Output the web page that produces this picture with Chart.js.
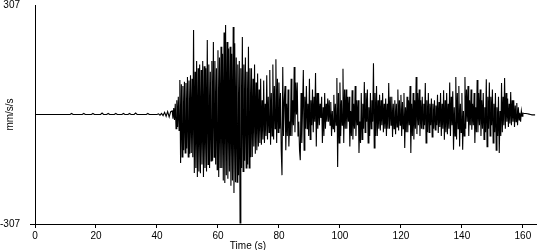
<!DOCTYPE html>
<html><head><meta charset="utf-8">
<script src="https://cdn.jsdelivr.net/npm/chart.js@4/dist/chart.umd.min.js"></script>
<style>html,body{margin:0;padding:0;background:#fff;}#wrap{width:550px;height:250px;position:relative}</style>
</head><body><div id="wrap"><canvas id="c" width="550" height="250"></canvas></div>
<script>
// Pre-event noise: 0 s .. 44.5 s, every 0.5 s (mm/s/s)
const preStart = 0, preStep = 0.5;
const preEvent = [
  0,0,0,0,0,0,0,0,0,0,
  0,0,0,0,0,0,0,0,0,0,
  0,0,0,0,3,0,0,0,0,0,
  0,0,3,0,0,0,0,0,3,0,
  0,0,0,0,4,0,0,0,3,0,
  0,0,0,3,0,0,0,0,3,0,
  0,0,3,0,0,0,4,0,0,0,
  0,0,0,0,3,0,0,0,0,0,
  0,2,-2,3,-3,6,-5,8,-7,8
];
// Strong motion: 45 s .. 159.75 s, every 0.25 s (mm/s/s)
const mainStart = 45, mainStep = 0.25;
const mainShock = [
  10,-12,18,-15, 30,-40,40,-35,
  50,-45,97,-136, 85,-119,80,-100,
  92,-108,88,-95, 105,-119,95,-110,
  110,-108,100,-120, 237,-164,120,-150,
  150,-175,130,-160, 140,-165,125,-140,
  150,-175,135,-150, 130,-160,209,-140,
  140,-150,120,-130, 150,-130,203,-120,
  150,-140,130,-155, 180,-175,160,-150,
  190,-150,170,-185, 230,-192,251,-170,
  203,-180,185,-160, 190,-200,170,-185,
  245,-220,200,-190, 160,-190,140,-170,
  150,-304,130,-150, 217,-160,140,-130,
  160,-150,120,-140, 190,-150,130,-120,
  130,-119,100,-90, 140,-110,90,-100,
  115,-90,70,-80, 100,-85,40,-70,
  95,-80,30,-60, 110,-70,50,-50,
  125,-85,60,-60, 140,-70,80,-40,
  155,-80,100,-50, 90,-40,60,-100,
  -170,133,-60,40, 80,-100,30,-60,
  70,-90,-20,-60, 100,-60,40,-30,
  133,-50,90,0, 90,-60,-20,-100,
  -128,60,-80,20, 125,-100,50,-40,
  80,-40,30,-60, 100,-70,40,-30,
  70,-50,50,-20, 116,-90,60,-40,
  60,-30,30,-10, 50,-80,20,-60,
  60,-40,30,-20, 45,-20,40,-30,
  35,-60,10,-40, 55,-50,30,-30,
  102,-147,60,-80, 90,-60,40,-30,
  128,-80,70,-40, 70,-40,50,-20,
  50,-90,10,-60, 68,-70,30,-40,
  80,-60,40,-30, 40,-108,-20,-80,
  60,-70,30,-40, 91,-50,60,-20,
  70,-80,20,-60, 60,-40,40,-20,
  144,-94,60,-60, 80,-60,40,-40,
  55,-45,40,-30, 60,-50,30,-40,
  45,-60,30,-40, 88,-40,50,-30,
  50,-63,30,-40, 40,-55,30,-35,
  70,-45,40,-30, 55,-60,35,-40,
  60,-94,20,-50, 50,-50,40,-30,
  80,-108,30,-60, 60,-70,40,-40,
  105,-55,60,-30, 70,-60,40,-40,
  50,-40,30,-30, 88,-80,40,-50,
  60,-50,30,-30, 45,-63,30,-40,
  40,-43,25,-30, 55,-52,35,-35,
  60,-60,30,-40, 68,-71,40,-50,
  60,-55,30,-40, 90,-60,50,-30,
  65,-99,20,-60, 105,-70,60,-40,
  80,-90,30,-50, 60,-99,10,-60,
  105,-40,70,-20, 80,-60,40,-30,
  70,-43,30,-30, 60,-80,20,-50,
  97,-50,60,-30, 70,-60,40,-40,
  60,-70,20,-50, 99,-90,50,-40,
  90,-60,50,-30, 70,-80,30,-50,
  60,-100,20,-60, 50,-108,10,-60,
  88,-50,50,-30, 102,-40,60,-20,
  45,-35,30,-25, 63,-30,40,-20,
  40,-35,25,-20, 32,-30,20,-15,
  5,-20,10,-5
];
// Coda tail: 160 s .. 164 s, every 0.5 s (mm/s/s)
const tailStart = 160, tailStep = 0.5;
const tail = [4,3,3,2,1,0,-1,-1,-1];

const xTicks = [0,20,40,60,80,100,120,140,160];
const yTicks = [-307,307];
const xMin = 0, xMax = 164.3;
const yMin = -307, yMax = 307;
const xLabel = 'Time (s)';
const yLabel = 'mm/s/s';

const points = [
  ...preEvent.map((v,i)=>({x: preStart + i*preStep, y: v})),
  ...mainShock.map((v,i)=>({x: mainStart + i*mainStep, y: v})),
  ...tail.map((v,i)=>({x: tailStart + i*tailStep, y: v}))
];
const FONT = {family:'"Liberation Sans", Arial, sans-serif', size:10};

const xTitlePlugin = {
  id:'xTitle',
  afterDraw(chart){
    const c = chart.ctx;
    c.save();
    c.font = '10px "Liberation Sans", Arial, sans-serif';
    c.fillStyle = '#000';
    c.textAlign = 'center';
    c.textBaseline = 'alphabetic';
    c.fillText(xLabel, 248, 249);
    c.restore();
  }
};

new Chart(document.getElementById('c'), {
  type:'line',
  data:{datasets:[{data:points, borderColor:'#000', borderWidth:1.1, pointRadius:0, tension:0, fill:false}]},
  options:{
    responsive:false, animation:false, devicePixelRatio:1, parsing:false, normalized:true,
    layout:{padding:{top:5,right:14,left:0,bottom:0}},
    plugins:{legend:{display:false}, tooltip:{enabled:false}},
    scales:{
      x:{type:'linear', min:xMin, max:xMax,
        afterBuildTicks:s=>{s.ticks = xTicks.map(v=>({value:v}));},
        afterFit:s=>{s.height = 26; s.paddingLeft = 0; s.paddingRight = 0;},
        ticks:{font:FONT, color:'#000', padding:2, maxRotation:0, autoSkip:false},
        grid:{drawOnChartArea:false, tickLength:4, color:'#000'},
        border:{color:'#000', width:1}
      },
      y:{type:'linear', min:yMin, max:yMax,
        afterBuildTicks:s=>{s.ticks = yTicks.map(v=>({value:v}));},
        afterFit:s=>{s.width = 35; s.paddingTop = 0; s.paddingBottom = 0;},
        ticks:{font:FONT, color:'#000', padding:10, autoSkip:false},
        grid:{drawOnChartArea:false, tickLength:5, color:ctx=>(ctx.tick && ctx.tick.value<0)?'#000':'rgba(0,0,0,0)'},
        border:{color:'#000', width:1},
        title:{display:true, text:yLabel, font:FONT, color:'#000', padding:{top:4,bottom:0}}
      }
    }
  },
  plugins:[xTitlePlugin]
});
</script></body></html>
